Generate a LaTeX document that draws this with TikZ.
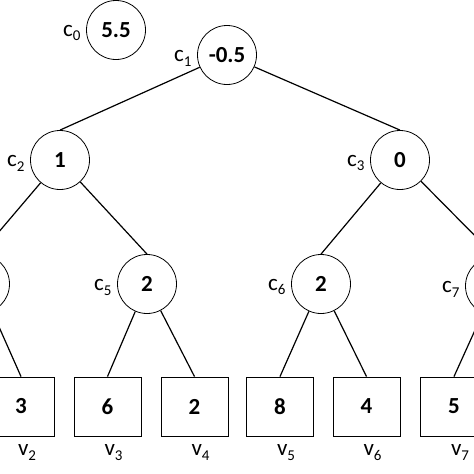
\documentclass[tikz,border=0pt]{standalone}
\usepackage{fontspec}
\setmainfont{Carlito}
\usetikzlibrary{positioning}

% subscripted labels of the nodes
\newcommand{\sublab}[2]{#1\raisebox{-0.45ex}{\fontsize{15pt}{15pt}\selectfont #2}}
\newcommand{\clab}[1]{\sublab{c}{#1}}
\newcommand{\vlab}[1]{\sublab{v}{#1}}

\tikzset{
	inner/.style={draw, circle, line width=0.8pt, minimum size=59pt, inner sep=0pt,
		font=\fontsize{23pt}{25pt}\selectfont\bfseries},
	leaf/.style={draw, rectangle, line width=0.9pt, minimum width=67pt, minimum height=59pt,
		inner sep=0pt, font=\fontsize{23pt}{25pt}\selectfont\bfseries},
	edge/.style={line width=1.2pt},
	clabel/.style={label={[label distance=2pt, yshift=-3pt]left:\clab{#1}}},
	every label/.style={font=\fontsize{23pt}{25pt}\selectfont}
}

\begin{document}
\begin{tikzpicture}[x=1pt, y=-1pt]

		\useasboundingbox (0,0) rectangle (474,474);
		\clip (0,0) rectangle (474,474);

		% inner nodes
		\node[inner, clabel=0] (c0) at (116,30) {5.5};
		\node[inner, clabel=1] (c1) at (227,55) {-0.5};
		\node[inner, clabel=2] (c2) at (60,160) {1};
		\node[inner, clabel=3] (c3) at (400,160) {0};
		\node[inner] (c4) at (-20,284) {};
		\node[inner, clabel=5] (c5) at (147,284) {2};
		\node[inner, clabel=6] (c6) at (321,284) {2};
		\node[inner, clabel=7] (c7) at (495,286) {};

		% edges between inner nodes
		\draw[edge] (c1) -- (c2.north);
		\draw[edge] (c1) -- (c3.north);
		\draw[edge] (c2) -- (c4.north);
		\draw[edge] (c2) -- (c5.north);
		\draw[edge] (c3) -- (c6.north);
		\draw[edge] (c3) -- (c7.north);

		% leaves and their edges
		\foreach \k/\xk/\val/\pk in {2/21/3/c4, 3/107.5/6/c5, 4/194.5/2/c5,
			5/280/8/c6, 6/366.5/4/c6, 7/454/5/c7} {
			\node[leaf, label={[xshift=6pt, label distance=5pt]below:\vlab{\k}}] (v\k) at (\xk,406.5) {\val};
			\draw[edge] (\pk) -- (v\k.north);
		}

	\end{tikzpicture}
\end{document}
